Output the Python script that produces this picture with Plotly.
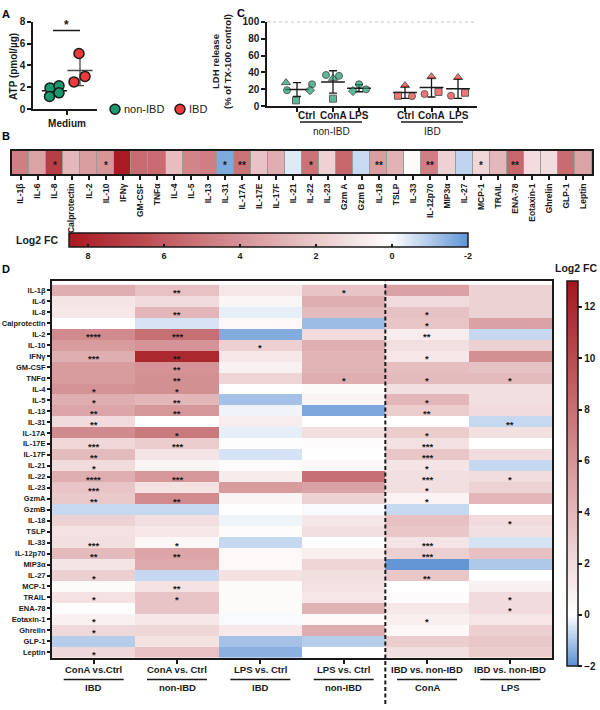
import numpy as np
import plotly.graph_objects as go

W, H = 600, 710
def px(x): return x / W
def py(y): return 1 - y / H

FONT = "Liberation Sans"
INK = "#1a1a1a"
GREEN = "#179b6e"
RED = "#ee3a3a"

# ===================== DATA =====================
# Panel A: ATP (pmol/ug), Medium
atp_non_ibd = [1.95, 2.15, 1.17, 1.5]
atp_ibd = [5.1, 3.0, 2.5]

# Panel C: LDH release (% of TX-100 control)
ldh_conditions = ["Ctrl", "ConA", "LPS"]
ldh_non_ibd_ctrl = [28, 26, 19, 19, 7]
ldh_non_ibd_cona = [37, 36, 33, 9]
ldh_non_ibd_lps = [18, 26, 20]
ldh_ibd_ctrl = [24.5, 12.5, 12]
ldh_ibd_cona = [35, 14.5, 17]
ldh_ibd_lps = [34, 12.5, 16]

# Panel B: Log2 FC
b_labels = ["IL-1β", "IL-6", "IL-8", "Calprotectin", "IL-2", "IL-10", "IFNγ", "GM-CSF",
            "TNFα", "IL-4", "IL-5", "IL-13", "IL-31", "IL-17A", "IL-17E", "IL-17F",
            "IL-21", "IL-22", "IL-23", "Gzm A", "Gzm B", "IL-18", "TSLP", "IL-33",
            "IL-12p70", "MIP3α", "IL-27", "MCP-1", "TRAIL", "ENA-78", "Eotaxin-1",
            "Ghrelin", "GLP-1", "Leptin"]
b_log2fc = [4.7, 3.4, 7.1, 2.6, 3.6, 3.9, 8.4, 5.4, 5.4, 2.4, 4.5, 4.7, -1.6, 5.2,
            2.2, 3.0, -0.4, 5.2, 1.7, 5.6, -0.7, 3.6, 2.8, 0.2, 4.7, 1.7, -0.8, 1.5,
            2.6, 5.6, 1.3, 1.3, 5.4, 3.4]
b_stars = {"IL-8": "*", "IL-10": "*", "IL-31": "*", "IL-17A": "**", "IL-22": "*",
           "IL-18": "**", "IL-12p70": "**", "MCP-1": "*", "ENA-78": "**"}

# Panel D: Log2 FC
d_rows = ["IL-1β", "IL-6", "IL-8", "Calprotectin", "IL-2", "IL-10", "IFNγ", "GM-CSF",
          "TNFα", "IL-4", "IL-5", "IL-13", "IL-31", "IL-17A", "IL-17E", "IL-17F",
          "IL-21", "IL-22", "IL-23", "GzmA", "GzmB", "IL-18", "TSLP", "IL-33",
          "IL-12p70", "MIP3α", "IL-27", "MCP-1", "TRAIL", "ENA-78", "Eotaxin-1",
          "Ghrelin", "GLP-1", "Leptin"]
d_col_top = ["ConA vs.Ctrl", "ConA vs. Ctrl", "LPS vs. Ctrl", "LPS vs. Ctrl",
             "IBD vs. non-IBD", "IBD vs. non-IBD"]
d_col_bottom = ["IBD", "non-IBD", "IBD", "non-IBD", "ConA", "LPS"]

d_cona_ibd = [4.5, 1.5, 1.3, 0, 6.5, 5.5, 4.5, 5.5, 5.5, 6, 4.5, 5, 2, 6.5, 2.3, 3.8, 2,
              4.5, 3.3, 3, -0.7, 2.5, 1.6, 1.8, 3.8, 1.5, 2.7, 0.3, 1.6, 0.1, 0.8, 2.2,
              -0.9, 2.2]
d_cona_non_ibd = [3.5, 2, 4, -0.5, 8, 6, 12, 6, 6.2, 6.2, 4, 5.8, 0, 7.5, 2.8, 1.5, 0.6,
                  5.8, 1.6, 6.5, -0.7, 1.8, 1.3, 0.4, 5, 4.8, -0.7, 1.6, 3.3, 3.3, 1.3,
                  2.3, 1.6, 3.5]
d_lps_ibd = [1.4, 0.5, -0.3, 0.4, -1.5, 2.6, 1.3, 0.8, 2.4, 0, -1.1, -0.2, 1, -0.3, 0.1,
             -0.5, 0.2, 1.1, 5.5, 0.6, 0.05, -0.2, 0.2, -0.7, 0.4, 0.4, 1.6, 0.3, 0.3,
             0.3, -0.1, 1.2, -1.1, -1.4]
d_lps_non_ibd = [3.3, 4.5, 3.8, -1.2, 2, 4.5, 4.2, 4.2, 4.5, 0.3, 0.6, -1.6, 0, 1.8, 0.2,
                 0, 0.4, 8, 5.2, 2.5, -0.1, 1.4, 1.8, 0, 0.9, 2.4, 1.8, 1.6, 1.3, 4.3,
                 0.4, 4.6, -0.9, 0]
d_ibd_vs_non_cona = [5.2, 2, 3.4, 3.2, 1, 1.8, 1.3, 3.6, 3.8, 1.8, 4, 2.8, 0, 2.8, 1.7,
                     3.2, 1.5, 1.8, 1.8, 0.7, -0.7, 3.5, 3.1, 1.5, 2.7, -1.9, 3.1, 0,
                     0.2, 1.3, 0.9, 0.4, 2.8, 1.8]
d_ibd_vs_non_lps = [2.5, 2.5, 2.5, 5.2, -0.7, 2.6, 6.2, 3.4, 3.8, 1.8, 1.8, 2, -0.7, 1.7,
                    0, 1.9, -0.7, 1.9, 2.5, 4, 0, 2, 1.8, -0.5, 3.5, -1, 0, 0.8, 2, 2,
                    1.4, 2.7, 3.1, 2.8]

d_stars_cona_ibd = {"IL-2": "****", "IFNγ": "***", "IL-4": "*", "IL-5": "*", "IL-13": "**",
                    "IL-31": "**", "IL-17E": "***", "IL-17F": "**", "IL-21": "*",
                    "IL-22": "****", "IL-23": "***", "GzmA": "**", "IL-33": "***",
                    "IL-12p70": "**", "IL-27": "*", "TRAIL": "*", "Eotaxin-1": "*",
                    "Ghrelin": "*", "Leptin": "*"}
d_stars_cona_non_ibd = {"IL-1β": "**", "IL-8": "**", "IL-2": "***", "IFNγ": "**",
                        "GM-CSF": "**", "TNFα": "**", "IL-4": "*", "IL-5": "**",
                        "IL-13": "**", "IL-17A": "*", "IL-17E": "***", "IL-22": "***",
                        "GzmA": "**", "IL-33": "*", "IL-12p70": "**", "MCP-1": "**",
                        "TRAIL": "*"}
d_stars_lps_ibd = {"IL-10": "*"}
d_stars_lps_non_ibd = {"IL-1β": "*", "TNFα": "*"}
d_stars_ibd_vs_non_cona = {"IL-8": "*", "Calprotectin": "*", "IL-2": "**", "IFNγ": "*",
                           "TNFα": "*", "IL-5": "*", "IL-13": "**", "IL-17A": "*",
                           "IL-17E": "***", "IL-17F": "***", "IL-21": "*", "IL-22": "***",
                           "IL-23": "*", "GzmA": "*", "IL-33": "***", "IL-12p70": "***",
                           "IL-27": "**", "Eotaxin-1": "*"}
d_stars_ibd_vs_non_lps = {"TNFα": "*", "IL-31": "**", "IL-22": "*", "IL-18": "*",
                          "TRAIL": "*", "ENA-78": "*"}

# ===================== STYLE / LAYOUT =====================
def bold(size, color=INK):
    return dict(family=FONT, size=size, color=color, weight="bold")

def mean_sd(v):
    a = np.asarray(v, float)
    return a.mean(), a.std(ddof=1)

def note(x, y, text, font, xanchor="center", yanchor="middle", **kw):
    d = dict(x=px(x), y=py(y), xref="paper", yref="paper", text=text, showarrow=False,
             font=font, xanchor=xanchor, yanchor=yanchor)
    d.update(kw)
    return d

fig = go.Figure()
ann = []
shapes = []

# ---------- Panel A ----------
A_CENTER = {"non": 21.5, "ibd": 47}
A_JIT = {"non": [-4.5, 4.5, -5, 4.5], "ibd": [-1, 5, -6]}
for key, vals, col, barcol in [("non", atp_non_ibd, GREEN, INK), ("ibd", atp_ibd, RED, "#4a4a4a")]:
    m, s = mean_sd(vals)
    c = A_CENTER[key]
    fig.add_trace(go.Scatter(
        x=[c], y=[m], mode="markers", xaxis="x", yaxis="y", hoverinfo="skip",
        marker=dict(symbol="line-ew", size=18, color=barcol, line=dict(width=1.5, color=barcol)),
        error_y=dict(type="data", array=[s], visible=True, thickness=1.3, width=4, color=barcol)))
    fig.add_trace(go.Scatter(
        x=[c + j for j in A_JIT[key]], y=vals, mode="markers", xaxis="x", yaxis="y",
        marker=dict(symbol="circle", size=10, color=col, line=dict(width=1.5, color=INK)),
        cliponaxis=False))

shapes.append(dict(type="line", xref="x", yref="y", x0=20, x1=47, y0=7.2, y1=7.2,
                   line=dict(color=INK, width=1.5)))
ann.append(dict(x=33.5, y=7.2, xref="x", yref="y", text="*", showarrow=False,
                font=bold(12), xanchor="center", yanchor="bottom", yshift=-4))
ann.append(note(14, 62, "ATP (pmol/µg)", bold(10), textangle=-90))
for cx, col, label in [(115, GREEN, "non-IBD"), (180, RED, "IBD")]:
    r = 5
    shapes.append(dict(type="circle", xref="paper", yref="paper",
                       x0=px(cx - r), x1=px(cx + r), y0=py(105 + r), y1=py(105 - r),
                       fillcolor=col, line=dict(color=INK, width=1.5)))
    ann.append(note(cx + 7, 105, label, dict(family=FONT, size=11, color=INK), xanchor="left"))

# ---------- Panel C ----------
C_CENTERS = [30, 66, 92, 138, 164.5, 191]
C_LABEL_PX = [306, 333, 359, 405, 431, 459]
C_SETS = [
    (ldh_non_ibd_ctrl, ["triangle-up", "circle", "circle", "diamond", "square"], [-11, 15, -10, 13, -1], GREEN),
    (ldh_non_ibd_cona, ["circle", "circle", "triangle-up", "square"], [-7, 6, 0, 0], GREEN),
    (ldh_non_ibd_lps, ["diamond", "circle", "circle"], [-6, 0, 7], GREEN),
    (ldh_ibd_ctrl, ["triangle-up", "square", "circle"], [0, -7, 7], RED),
    (ldh_ibd_cona, ["triangle-up", "circle", "square"], [0, -7, 7], RED),
    (ldh_ibd_lps, ["triangle-up", "circle", "square"], [0, -7, 7], RED),
]
shapes.append(dict(type="line", xref="x2", yref="y2", x0=0, x1=210, y0=100, y1=100,
                   line=dict(color="#777777", width=1, dash="dot")))
for c, (vals, syms, jit, col) in zip(C_CENTERS, C_SETS):
    m, s = mean_sd(vals)
    fig.add_trace(go.Scatter(
        x=[c], y=[m], mode="markers", xaxis="x2", yaxis="y2", hoverinfo="skip",
        marker=dict(symbol="line-ew", size=17, color=INK, line=dict(width=1.5, color=INK)),
        error_y=dict(type="data", array=[s], visible=True, thickness=1.3, width=4, color=INK)))
    fig.add_trace(go.Scatter(
        x=[c + j for j in jit], y=vals, mode="markers", xaxis="x2", yaxis="y2",
        marker=dict(symbol=syms, size=[8 if t == "triangle-up" else 7 for t in syms],
                    color=col, line=dict(width=1, color=INK)), cliponaxis=False))
for lx, lab in zip(C_LABEL_PX, ldh_conditions * 2):
    ann.append(note(lx, 111, lab, bold(10)))
ann.append(note(221, 57, "LDH release<br>(% of TX-100 control)", bold(9.5), textangle=-90))
for gx, label in [(331, "non-IBD"), (432, "IBD")]:
    shapes.append(dict(type="line", xref="paper", yref="paper", x0=px(gx - 31), x1=px(gx + 31),
                       y0=py(118), y1=py(118), line=dict(color=INK, width=1.5)))
    ann.append(note(gx, 127.5, label, dict(family=FONT, size=10, color=INK)))

# ---------- Panel B ----------
B_SCALE = [[0, "#a8181f"], [8.5 / 10.5, "#ffffff"], [1, "#5f95d6"]]
shapes.append(dict(type="rect", xref="x3 domain", yref="y3 domain", x0=0, x1=1, y0=0, y1=1,
                   fillcolor="#9a9a9a", line=dict(width=0), layer="below"))
fig.add_trace(go.Heatmap(
    z=[[-v for v in b_log2fc]], x=b_labels, y=[0], xaxis="x3", yaxis="y3",
    zmin=-8.5, zmax=2, colorscale=B_SCALE, xgap=1, hoverinfo="skip",
    colorbar=dict(orientation="h", x=px(268.5), xanchor="center", y=py(231), yanchor="top",
                  len=399, lenmode="pixels", thickness=14, thicknessmode="pixels",
                  outlinewidth=1.5, outlinecolor=INK, xpad=0, ypad=0,
                  tickvals=[-8, -6, -4, -2, 0, 2], ticktext=["8", "6", "4", "2", "0", "-2"],
                  ticks="inside", ticklen=3, tickwidth=1.5, tickcolor=INK,
                  tickfont=bold(9))))
for lab, st in b_stars.items():
    ann.append(dict(x=lab, y=0, xref="x3", yref="y3", text=st, showarrow=False,
                    font=bold(10), xanchor="center", yanchor="middle", yshift=-3))
ann.append(note(60, 238, "Log2 FC", bold(10.5), xanchor="right"))

# ---------- Panel D ----------
D_SCALE = [[0, "#5b8fd3"], [2 / 15, "#ffffff"], [1, "#a3161d"]]
d_columns = [d_cona_ibd, d_cona_non_ibd, d_lps_ibd, d_lps_non_ibd,
             d_ibd_vs_non_cona, d_ibd_vs_non_lps]
d_stars = [d_stars_cona_ibd, d_stars_cona_non_ibd, d_stars_lps_ibd, d_stars_lps_non_ibd,
           d_stars_ibd_vs_non_cona, d_stars_ibd_vs_non_lps]
zD = np.array(d_columns).T
fig.add_trace(go.Heatmap(
    z=zD, x=list(range(6)), y=d_rows, xaxis="x4", yaxis="y4", zmin=-2, zmax=13,
    colorscale=D_SCALE, hoverinfo="skip",
    colorbar=dict(orientation="v", x=px(567), xanchor="left", y=py(280), yanchor="top",
                  len=385, lenmode="pixels", thickness=11, thicknessmode="pixels",
                  outlinewidth=1.5, outlinecolor=INK, xpad=0, ypad=0,
                  tickvals=list(range(-2, 13, 2)), ticks="outside", ticklen=4,
                  tickwidth=1.5, tickcolor=INK, tickfont=bold(10))))
for ci, sd in enumerate(d_stars):
    for row, st in sd.items():
        ann.append(dict(x=ci, y=row, xref="x4", yref="y4", text=st, showarrow=False,
                        font=bold(9.5), xanchor="center", yanchor="middle", yshift=-2.5,
                        borderpad=0))
ann.append(note(576, 266, "Log2 FC", bold(10.5)))
for ci in range(6):
    cx = 52 + (552 - 52) / 6 * (ci + 0.5)
    ann.append(note(cx, 675, d_col_top[ci], bold(9.5)))
    ann.append(note(cx, 693, d_col_bottom[ci], bold(9.5)))
    shapes.append(dict(type="line", xref="paper", yref="paper", x0=px(cx - 30), x1=px(cx + 30),
                       y0=py(685), y1=py(685), line=dict(color=INK, width=1.5)))
shapes.append(dict(type="line", xref="x4", yref="paper", x0=3.5, x1=3.5, y0=0, y1=py(280),
                   line=dict(color=INK, width=2, dash="4px,2.5px")))

# panel letters
for lab, x, y in [("A", 0, 0), ("B", 0, 124), ("C", 235, -1), ("D", 0, 259)]:
    ann.append(note(x, y, lab, bold(11, "#000"), xanchor="left", yanchor="top"))

axis_common = dict(showgrid=False, zeroline=False, showline=True, linecolor=INK,
                   linewidth=1.5, ticks="outside", ticklen=4, tickwidth=1.5, tickcolor=INK,
                   fixedrange=True)
fig.update_layout(
    width=W, height=H, margin=dict(l=0, r=0, t=0, b=0),
    paper_bgcolor="white", plot_bgcolor="white", showlegend=False,
    font=dict(family=FONT, color=INK),
    xaxis=dict(axis_common, domain=[px(33), px(97)], range=[0, 64], anchor="y",
               tickvals=[34], ticktext=["Medium"], tickfont=bold(10)),
    yaxis=dict(axis_common, domain=[py(105), py(16)], range=[0, 8], anchor="x",
               tickvals=[0, 2, 4, 6, 8], tickfont=bold(10)),
    xaxis2=dict(axis_common, domain=[px(267), px(477)], range=[0, 210], anchor="y2",
                tickvals=C_CENTERS, showticklabels=False),
    yaxis2=dict(axis_common, domain=[py(102), py(16)], range=[0, 100], anchor="x2",
                tickvals=[0, 20, 40, 60, 80, 100], tickfont=bold(10)),
    xaxis3=dict(axis_common, domain=[px(12), px(592)], anchor="y3", linewidth=2,
                mirror=True, tickangle=-90, tickmode="array", tickvals=b_labels,
                tickfont=bold(8.5)),
    yaxis3=dict(axis_common, domain=[py(171), py(147)], anchor="x3", linewidth=2,
                mirror=True, range=[-0.5, 0.5], ticks="", showticklabels=False),
    xaxis4=dict(axis_common, domain=[px(52), px(552)], anchor="y4", linewidth=2,
                mirror=True, range=[-0.5, 5.5], tickvals=list(range(6)),
                showticklabels=False),
    yaxis4=dict(axis_common, domain=[py(663), py(280)], anchor="x4", linewidth=2,
                mirror=True, autorange="reversed", tickmode="array", tickvals=d_rows,
                ticklen=3, tickfont=bold(7.5)),
    annotations=ann, shapes=shapes,
)
fig.write_html("out.html")
